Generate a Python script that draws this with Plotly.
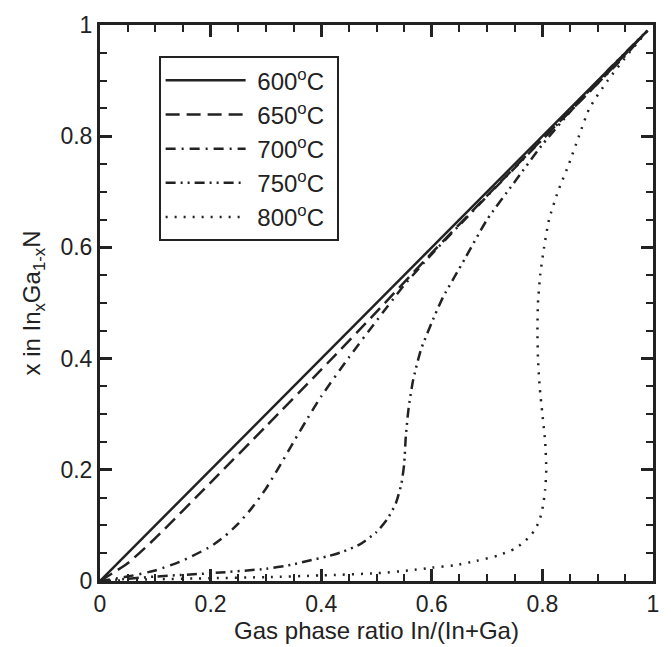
import plotly.graph_objects as go

# ---- data ----
x600 = [0, 0.99]
y600 = [0, 0.99]

x650 = [0, 0.05, 0.1, 0.2, 0.3, 0.4, 0.5, 0.6, 0.7, 0.8, 0.9, 0.99]
y650 = [0, 0.032, 0.077, 0.177, 0.278, 0.38, 0.484, 0.59, 0.693, 0.795, 0.895, 0.99]

x700 = [0, 0.05, 0.1, 0.15, 0.2, 0.225, 0.25, 0.275, 0.3, 0.325, 0.35, 0.375, 0.4, 0.45, 0.5, 0.55, 0.6, 0.65, 0.7, 0.75, 0.8, 0.85, 0.9, 0.95, 0.99]
y700 = [0, 0.008, 0.019, 0.037, 0.062, 0.08, 0.103, 0.132, 0.166, 0.207, 0.25, 0.292, 0.332, 0.402, 0.468, 0.532, 0.588, 0.64, 0.692, 0.743, 0.794, 0.845, 0.895, 0.945, 0.99]

x750 = [0, 0.05, 0.1, 0.2, 0.3, 0.345, 0.375, 0.41, 0.44, 0.47, 0.5, 0.52, 0.535, 0.545, 0.55, 0.553, 0.558, 0.566, 0.58, 0.6, 0.62, 0.64, 0.66, 0.7, 0.75, 0.8, 0.86, 0.92, 0.99]
y750 = [0, 0.004, 0.008, 0.014, 0.022, 0.029, 0.036, 0.044, 0.053, 0.066, 0.088, 0.112, 0.14, 0.175, 0.21, 0.26, 0.31, 0.36, 0.415, 0.465, 0.51, 0.545, 0.58, 0.65, 0.718, 0.785, 0.855, 0.92, 0.99]

x800 = [0, 0.1, 0.2, 0.3, 0.4, 0.5, 0.56, 0.6, 0.64, 0.68, 0.72, 0.75, 0.77, 0.785, 0.795, 0.801, 0.805, 0.807, 0.805, 0.8, 0.795, 0.792, 0.791, 0.792, 0.796, 0.803, 0.812, 0.828, 0.848, 0.866, 0.885, 0.918, 0.957, 0.99]
y800 = [0, 0.003, 0.005, 0.007, 0.01, 0.014, 0.019, 0.024, 0.028, 0.036, 0.046, 0.058, 0.073, 0.09, 0.11, 0.135, 0.165, 0.2, 0.25, 0.3, 0.35, 0.4, 0.45, 0.5, 0.55, 0.6, 0.65, 0.7, 0.75, 0.8, 0.85, 0.9, 0.95, 0.99]

names = ["\u00a0600<sup>o</sup>C\u00a0", "\u00a0650<sup>o</sup>C\u00a0", "\u00a0700<sup>o</sup>C\u00a0", "\u00a0750<sup>o</sup>C\u00a0", "\u00a0800<sup>o</sup>C\u00a0"]
xs = [x600, x650, x700, x750, x800]
ys = [y600, y650, y700, y750, y800]
dashes = ["solid", "14px,7px", "10px,6px,2px,6px", "10px,5px,2px,5px,2px,5px", "2px,7px"]

INK = "#222222"
FONT = "Liberation Sans, Arial, sans-serif"

fig = go.Figure()
for xv, yv, nm, ds in zip(xs, ys, names, dashes):
    fig.add_trace(go.Scatter(
        x=xv, y=yv, name=nm, mode="lines",
        line=dict(color=INK, width=2.5, dash=ds, shape="spline", smoothing=0.6),
    ))

axis_common = dict(
    range=[0, 1], dtick=0.2, tick0=0,
    showgrid=False, zeroline=False,
    showline=True, linecolor=INK, linewidth=3, mirror="allticks",
    ticks="inside", ticklen=12, tickwidth=2.5, tickcolor=INK,
    tickfont=dict(family=FONT, size=23, color=INK),
    minor=dict(dtick=0.05, ticks="inside", ticklen=7, tickwidth=2, tickcolor=INK),
)

fig.update_layout(
    width=671, height=647,
    margin=dict(l=100, r=16, t=13, b=64),
    paper_bgcolor="white", plot_bgcolor="white",
    font=dict(family=FONT, color=INK),
    xaxis=dict(**axis_common,
               title=dict(text="Gas phase ratio In/(In+Ga)", font=dict(family=FONT, size=24, color=INK), standoff=2)),
    yaxis=dict(**axis_common,
               title=dict(text="x in In<sub>x</sub>Ga<sub>1-x</sub>N", font=dict(family=FONT, size=24, color=INK), standoff=14)),
    legend=dict(
        x=0.106, y=0.944, xanchor="left", yanchor="top",
        bordercolor=INK, borderwidth=2, bgcolor="white",
        font=dict(family=FONT, size=24, color=INK),
        itemwidth=80, tracegroupgap=0,
    ),
    showlegend=True,
)

fig.write_html("out.html")
